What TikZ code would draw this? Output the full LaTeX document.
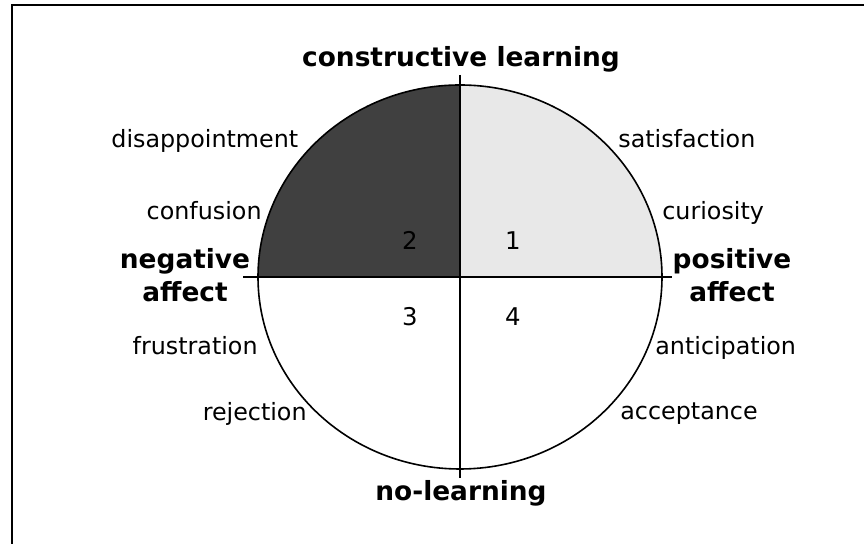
\documentclass[tikz,border=0pt]{standalone}
\usepackage{fontspec}
\setmainfont{DejaVu Sans}
\usetikzlibrary{positioning}
\tikzset{
emotion/.style={inner sep=0pt, font=\fontsize{11.9}{14}\selectfont}, % the words round the circle
axislabel/.style={inner sep=0pt, align=center, font=\bfseries\fontsize{13.2}{16.5}\selectfont}, % names of the two axes
quadnum/.style={inner sep=0pt, font=\fontsize{12.2}{14}\selectfont}, % number of each quarter
axis/.style={line width=1pt}, % the two crossing lines
}
\definecolor{darkquad}{gray}{0.25}
\definecolor{lightquad}{gray}{0.91}

\begin{document}
\begin{tikzpicture}[x=0.5pt, y=-0.5pt]
\useasboundingbox (0,0) rectangle (864,544);

% frame, only left and top edge show
\draw[line width=1pt] (12,544) -- (12,5) -- (864,5);

\coordinate (c) at (460,277);
\coordinate (west) at (243,277);
\coordinate (east) at (672,277);
\coordinate (north) at (460,75);
\coordinate (south) at (460,478);

% shaded quarters
\fill[darkquad] (c) -- (258,277) arc[start angle=180, end angle=270, x radius=202, y radius=192] -- cycle;
\fill[lightquad] (c) -- (460,85) arc[start angle=270, end angle=360, x radius=202, y radius=192] -- cycle;
\draw[line width=0.8pt] (c) ellipse[x radius=202, y radius=192];

\draw[axis] (west) -- (east);
\draw[axis] (north) -- (south);

% base of a two line node is the base of its last line
\node[axislabel, anchor=base] (learn) at (461,67) {constructive learning};
\node[axislabel, anchor=base] (nolearn) at (461,501) {no-learning};
\node[axislabel, anchor=base] (neg) at (185,302) {negative\\affect};
\node[axislabel, anchor=base] (pos) at (732,302) {positive\\affect};

\node[emotion, anchor=base west] (disapp) at (111,148) {disappointment};
\node[emotion, anchor=base east] (conf) at (262,220) {confusion};
\node[emotion, anchor=base east] (frus) at (258,355) {frustration};
\node[emotion, anchor=base east] (rej) at (307,421) {rejection};
\node[emotion, anchor=base west] (satis) at (618,148) {satisfaction};
\node[emotion, anchor=base west] (curio) at (662,220) {curiosity};
\node[emotion, anchor=base west] (antic) at (655,355) {anticipation};
\node[emotion, anchor=base west] (accep) at (620,420) {acceptance};

\node[quadnum, anchor=base] (q1) at (513,250) {1};
\node[quadnum, anchor=base] (q2) at (410,250) {2};
\node[quadnum, anchor=base] (q3) at (410,326) {3};
\node[quadnum, anchor=base] (q4) at (513,326) {4};
\end{tikzpicture}
\end{document}
